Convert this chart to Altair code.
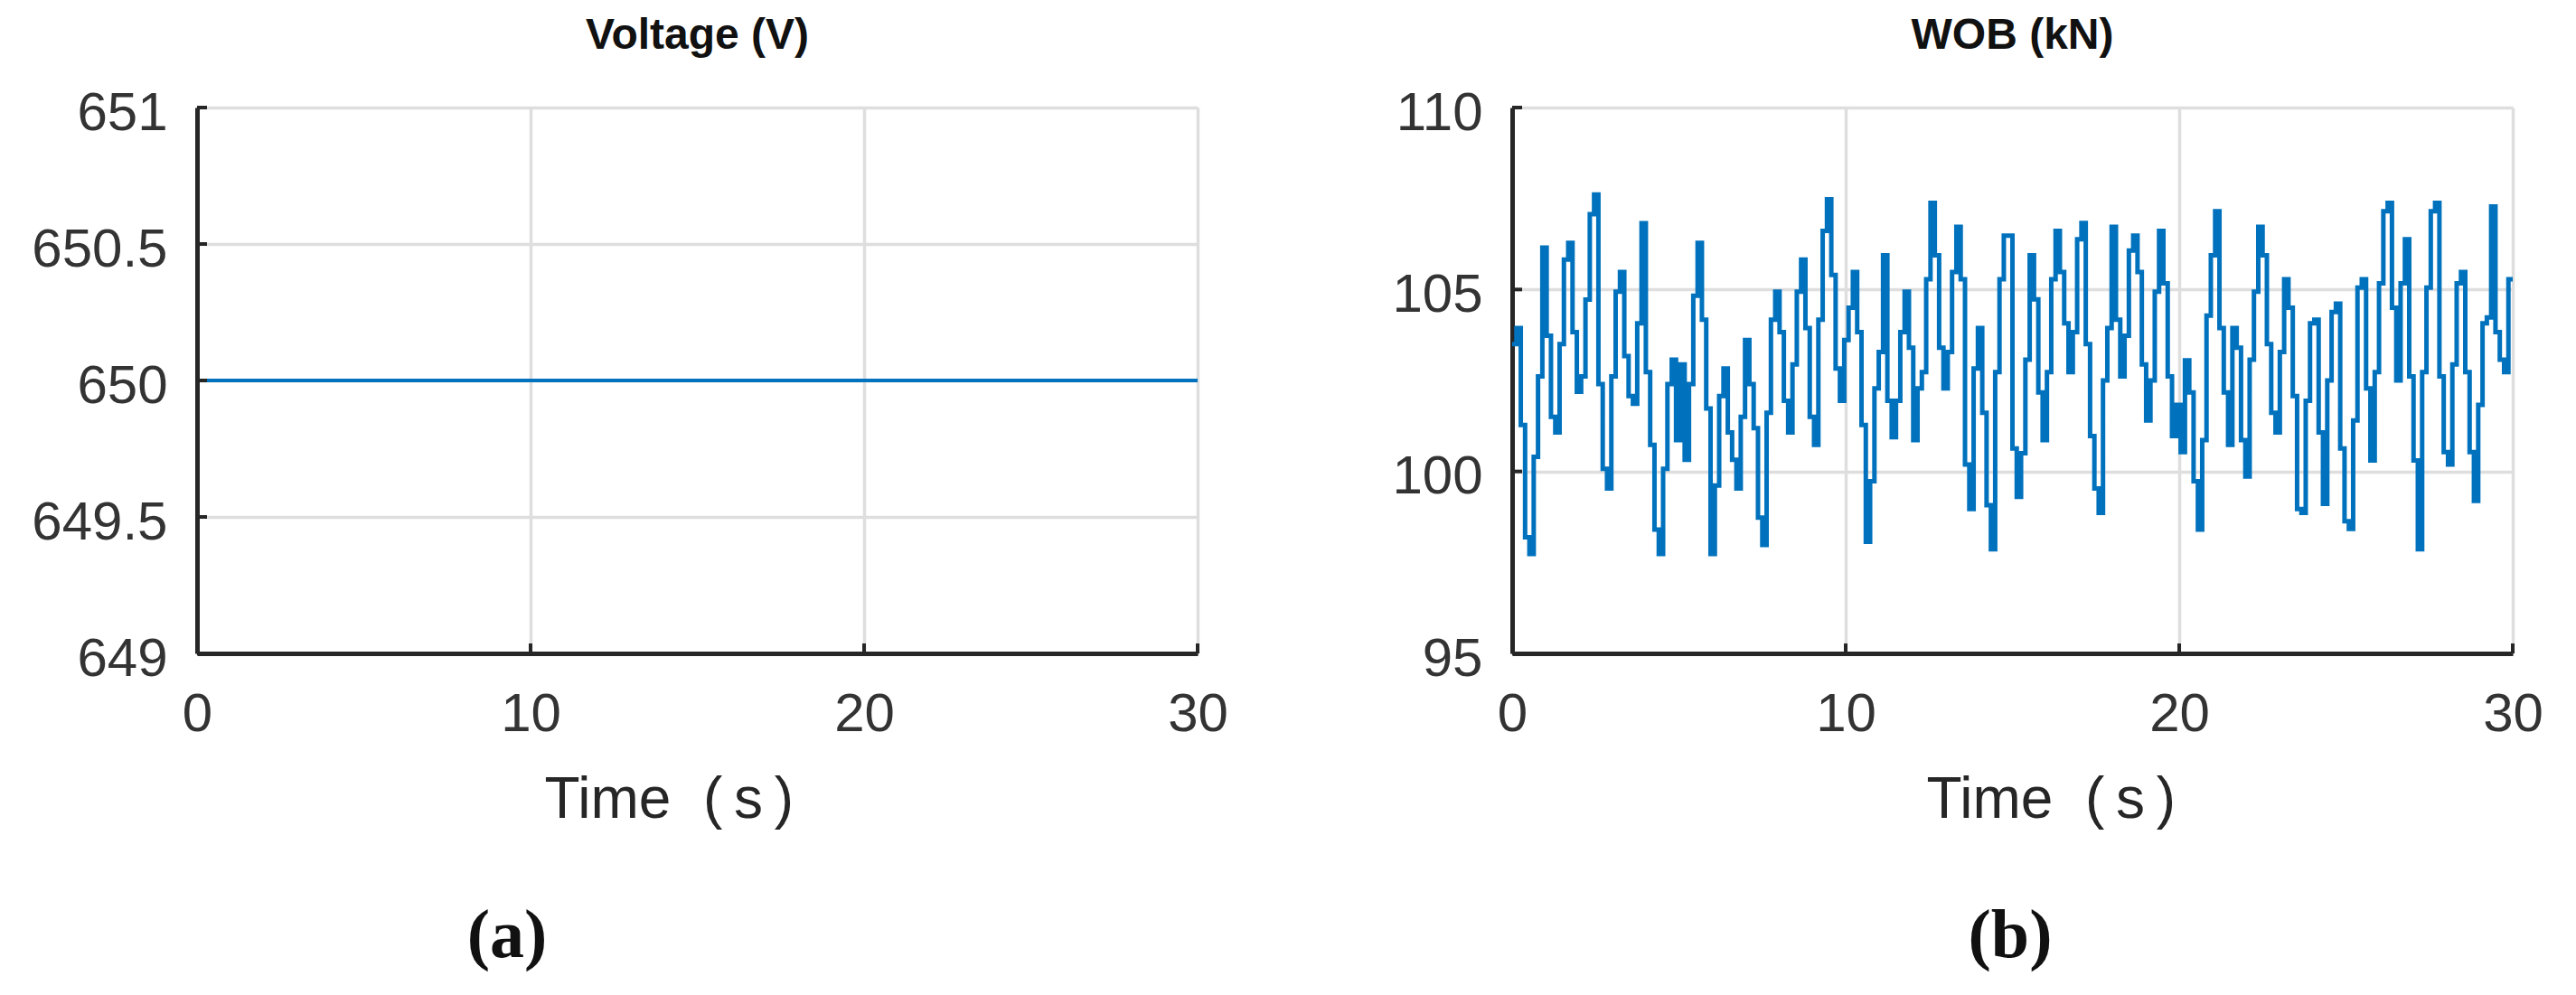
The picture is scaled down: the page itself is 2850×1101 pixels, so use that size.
import altair as alt
import pandas as pd

# ---------------- data ----------------
TIME_TICKS = [0, 10, 20, 30]
VOLT_TICKS = [649, 649.5, 650, 650.5, 651]
WOB_TICKS = [95, 100, 105, 110]

VOLT_TIME = [0, 30]
VOLT_VALUES = [650, 650]

T_END = 30
WOB_VALUES = [
    103.5, 103.94, 101.28, 98.19, 97.73, 100.4, 102.61, 106.15, 103.73, 101.5,
    101.07, 103.5, 105.82, 106.28, 103.83, 102.19, 102.61, 104.72, 107.07, 107.61,
    102.4, 100.07, 99.53, 102.61, 104.94, 105.48, 103.17, 102.07, 101.86, 104.07,
    106.82, 102.73, 100.73, 98.4, 97.73, 100.07, 102.4, 103.07, 100.86, 102.94,
    100.32, 102.4, 104.83, 106.28, 104.17, 101.73, 97.73,
    99.61, 102.07, 102.83, 101.07, 100.32, 99.53, 101.5, 103.61, 102.4, 101.19,
    98.73, 97.98, 101.61, 104.17, 104.94, 103.83, 101.94, 101.07, 102.94, 104.94,
    105.82, 103.94, 101.5, 100.73, 104.17, 106.61, 107.48, 105.4, 102.83, 101.94,
    103.61, 104.5, 105.48, 103.83, 101.28, 98.07, 99.73, 102.28, 103.28, 105.94,
    101.94, 100.94, 101.94, 103.83, 104.94, 103.4, 100.86,
    102.28, 102.73, 105.28, 107.38, 105.94, 103.4, 102.28, 103.28, 105.48, 106.72,
    105.28, 100.19, 98.97, 102.83, 103.94, 101.61, 99.07, 97.86, 102.73, 105.28,
    106.48, 106.48, 100.63, 99.3, 100.5, 103.07, 105.94, 104.73, 102.17, 100.86,
    102.73, 105.28, 106.61, 105.48, 104.07, 102.73, 103.83, 106.38, 106.83, 103.5,
    100.97, 99.53, 98.86, 102.5, 103.94, 106.72,
    104.17, 102.61, 103.73, 106.07, 106.48, 105.48, 102.94, 101.4, 102.5, 104.94,
    106.61, 105.17, 102.61, 100.97, 101.83, 100.53, 103.05, 102.17, 99.73, 98.4,
    100.86, 104.28, 105.94, 107.15, 103.94, 102.17, 100.73, 103.94, 103.4, 100.86,
    99.86, 103.07, 104.94, 106.72, 105.94, 103.5, 101.61, 101.07, 103.28, 105.28,
    104.5, 102.07, 98.97, 98.86, 101.94,
    104.07, 104.17, 101.07, 99.11, 102.5, 104.38, 104.61, 100.63, 98.63, 98.42,
    101.4, 105.05, 105.28, 102.28, 100.3, 102.73, 105.17, 107.15, 107.38, 104.5,
    102.5, 105.17, 106.38, 102.61, 100.3, 97.86, 102.73, 105.05, 107.15, 107.38,
    102.61, 100.53, 100.19, 102.94, 105.17, 105.48, 102.73, 100.53, 99.19, 101.83,
    104.07, 104.23, 107.28, 103.83, 103.07, 102.73, 105.28,
]

# sampled (zero-order hold) signal: one held value per sample period
dt = T_END / len(WOB_VALUES)
wob_t = [i * dt for i in range(len(WOB_VALUES))] + [T_END]
wob_v = WOB_VALUES + [WOB_VALUES[-1]]

volt_df = pd.DataFrame({"t": VOLT_TIME, "v": VOLT_VALUES})
wob_df = pd.DataFrame({"t": wob_t, "v": wob_v})

# ---------------- styling ----------------
W, H = 1107, 604
BLUE = "#0072BD"
INK = "#262626"
LABEL = "#333333"
SANS = "Liberation Sans"
SERIF = "Liberation Serif"
TIME_TITLE = "Time\u00a0\u00a0(\u2009s\u2009)"


def panel(df, ydomain, yticks, title, letter, time_x, letter_x, step, width):
    x_axis = alt.Axis(
        values=TIME_TICKS, title=TIME_TITLE,
        titleFont=SANS, titleFontSize=64, titleFontWeight="normal", titleColor=INK,
        titleX=time_x, titleY=181, titleAlign="left", titleBaseline="alphabetic",
        labelFont=SANS, labelFontSize=60, labelColor=LABEL, labelPadding=38,
        labelFlush=False, labelOverlap=False,
        ticks=False, tickSize=0, domainColor=INK, domainWidth=5,
        grid=True, gridColor="#dedede", gridWidth=3.5,
    )
    y_axis = alt.Axis(
        values=yticks, title=None, labelExpr="'' + datum.value",
        labelFont=SANS, labelFontSize=60, labelColor=LABEL, labelPadding=33,
        labelOffset=6, labelFlush=False, labelOverlap=False,
        ticks=False, tickSize=0, domainColor=INK, domainWidth=5,
        grid=True, gridColor="#dedede", gridWidth=3.5,
    )
    xs = alt.Scale(domain=[0, T_END], nice=False, zero=False)
    ys = alt.Scale(domain=ydomain, nice=False, zero=False)

    line_kw = dict(color=BLUE, strokeWidth=width)
    if step:
        line_kw["interpolate"] = "step-after"
    line = alt.Chart(df).mark_line(**line_kw).encode(
        x=alt.X("t:Q", scale=xs, axis=x_axis),
        y=alt.Y("v:Q", scale=ys, axis=y_axis),
    )

    ytick = alt.Chart(pd.DataFrame({"v": yticks})).mark_rule(
        color=INK, strokeWidth=4
    ).encode(y=alt.Y("v:Q", scale=ys, axis=y_axis), x=alt.value(0), x2=alt.value(11))
    xtick = alt.Chart(pd.DataFrame({"t": TIME_TICKS})).mark_rule(
        color=INK, strokeWidth=4
    ).encode(x=alt.X("t:Q", scale=xs, axis=x_axis), y=alt.value(H), y2=alt.value(H - 11))

    ttl = alt.Chart(pd.DataFrame({"s": [title]})).mark_text(
        font=SANS, fontSize=48, fontWeight="bold", color="#111111",
        align="center", baseline="alphabetic",
    ).encode(text="s:N", x=alt.value(W / 2), y=alt.value(-65))

    lab = alt.Chart(pd.DataFrame({"s": [letter]})).mark_text(
        font=SERIF, fontSize=76, fontWeight="bold", color="#111111",
        align="center", baseline="alphabetic",
    ).encode(text="s:N", x=alt.value(letter_x), y=alt.value(940))

    return alt.layer(line, ytick, xtick, ttl, lab).properties(width=W, height=H)


pa = panel(volt_df, [649, 651], VOLT_TICKS, "Voltage (V)", "(a)", 384, 343, False, 3.8)
pb = panel(wob_df, [95, 110], WOB_TICKS, "WOB (kN)", "(b)", 458, 551, True, 5)

chart = (
    alt.hconcat(pa, pb, spacing=348, bounds="flush")
    .properties(padding={"left": 26, "top": 8, "right": 5, "bottom": 5})
    .configure_view(stroke=None)
)

chart.save("out.html", embed_options={"renderer": "svg", "actions": False})
